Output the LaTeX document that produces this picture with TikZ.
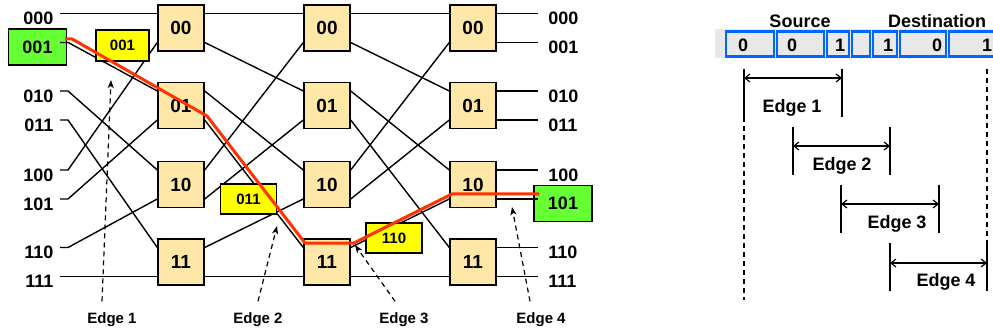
\documentclass[tikz,border=0pt]{standalone}
\usepackage{fontspec}
\setmainfont{Liberation Sans}
\usetikzlibrary{arrows.meta}
\definecolor{swtan}{HTML}{FFE7A8}
\definecolor{srcgreen}{HTML}{66FF33}
\definecolor{hopyellow}{HTML}{FFFF00}
\definecolor{routered}{HTML}{FF3300}
\definecolor{cellblue}{HTML}{0066FF}
\definecolor{bandgray}{HTML}{E8E8E8}
\tikzset{
  big/.style={font=\fontsize{18}{20}\selectfont\bfseries},
  small/.style={font=\fontsize{15}{17}\selectfont\bfseries,inner sep=2pt},
  sw/.style={draw,fill=swtan,minimum width=46pt,minimum height=46pt,inner sep=0pt,font=\fontsize{19}{21}\selectfont\bfseries},
  endbox/.style={draw,fill=srcgreen,minimum width=58pt,minimum height=36pt,inner sep=0pt,big},
  hop/.style={draw,fill=hopyellow,minimum width=56pt,minimum height=30pt,inner sep=0pt,small},
  route/.style={routered,line width=3pt,line join=round},
  pointer/.style={-{Stealth[length=8pt,width=6pt,inset=2pt]},dash pattern=on 5pt off 4pt,line width=1.2pt},
  guide/.style={dash pattern=on 5pt off 4pt,line width=1.2pt},
  dim/.style={{Straight Barb[length=5pt,width=8pt]}-{Straight Barb[length=5pt,width=8pt]},line width=1.2pt},
}
\begin{document}
\begin{tikzpicture}[x=1pt,y=-1pt,line width=1.4pt]
\useasboundingbox (0,0) rectangle (993,331);
\foreach \c/\x in {1/181,2/327,3/473} \foreach \s/\y/\t in {0/28/00,1/105.5/01,2/184.5/10,3/262/11} \node[sw] (s\c\s) at (\x,\y) {\t};
\foreach \c in {1,2,3} \foreach \s in {0,...,3} {
  \pgfmathtruncatemacro\portA{2*\s}
  \pgfmathtruncatemacro\portB{2*\s+1}
  \coordinate (in\c-\portA) at ([yshift=14.5pt]s\c\s.west);
  \coordinate (in\c-\portB) at ([yshift=-14.5pt]s\c\s.west);
  \coordinate (out\c-\portA) at ([yshift=14.5pt]s\c\s.east);
  \coordinate (out\c-\portB) at ([yshift=-14.5pt]s\c\s.east);
}
\foreach \k/\y/\t/\j in {0/13.5/000/0,2/91/010/4,3/120/011/6,4/170/100/1,5/199/101/3,6/247.5/110/5,7/276.5/111/7} {
  \node[big,anchor=east,inner sep=0pt] (l\k) at (54,\y+5) {\t};
  \draw ([xshift=6pt,yshift=5pt]l\k.east) -- ++(8,0) -- (in1-\j);
}
\node[endbox] (src) at (37.5,47) {001};
\draw ([xshift=-7pt,yshift=4.5pt]src.east) -- ++(8,0) -- (in1-2);
\foreach \c/\d in {1/2,2/3} \foreach \k/\j in {0/0,1/2,2/4,3/6,4/1,5/3,6/5,7/7} \draw (out\c-\k) -- (in\d-\j);
\foreach \k/\t in {0/000,1/001,2/010,3/011,4/100,6/110,7/111} \draw (out3-\k) -- ++(41,0) node[big,anchor=west,inner sep=0pt,xshift=10pt,yshift=-5pt] (r\k) {\t};
\node[endbox] (dst) at (563,203.5) {101};
\draw (out3-5) -- ++(41,0);
\node[hop,minimum width=53pt,minimum height=31pt] (h1) at (122.5,45.5) {001};
\node[hop] (h2) at (248.5,199) {011};
\node[hop] (h3) at (394,238) {110};
\draw[route] ([xshift=-2pt,yshift=8pt]src.east) -- ++(7,0) -- (207,116) -- (305,243) -- (354,243) -- (452,194) -- ([xshift=6pt,yshift=9.5pt]dst.west);
\foreach \n/\x/\dx/\tx/\ty in {1/112/-10/111/80,2/258/0/277/226,3/404/-9/355/245,4/541/-11/512/207} {
  \node[small] (e\n) at (\x,320) {Edge \n};
  \coordinate (tip\n) at (\tx,\ty);
  \draw[pointer] ([xshift=\dx pt,yshift=9pt]e\n.north) -- (tip\n);
}
\fill[bandgray] (715,29) rectangle (995,58);
\foreach \a/\b in {726/774,777/824,827/849,852/870,873/897,900/946,949/999} \draw[cellblue,line width=2.5pt] (\a,31.5) rectangle (\b,56.5);
\foreach \n/\x/\t in {1/743/0,2/792/0,3/840/1,4/888/1,5/937/0,6/987/1} \node[big] (b\n) at (\x,45) {\t};
\node[big] (srclbl) at (800,21) {Source};
\node[big] (dstlbl) at (937,21) {Destination};
\foreach \n/\xa/\xb/\ya/\ay/\lx in {1/744/842/69/78/792,2/793/890/127/146/842,3/841/939/185/204/897,4/890/987/243/263/946} {
  \draw (\xa,\ya) -- ++(0,48);
  \draw (\xb,\ya) -- ++(0,48);
  \draw[dim] (\xa,\ay) -- (\xb,\ay);
  \node[big] (d\n) at (\lx,\ya+39) {Edge \n};
}
\draw[guide] (744,117) -- (744,300);
\draw[guide] (987,69) -- (987,243);
\end{tikzpicture}
\end{document}
